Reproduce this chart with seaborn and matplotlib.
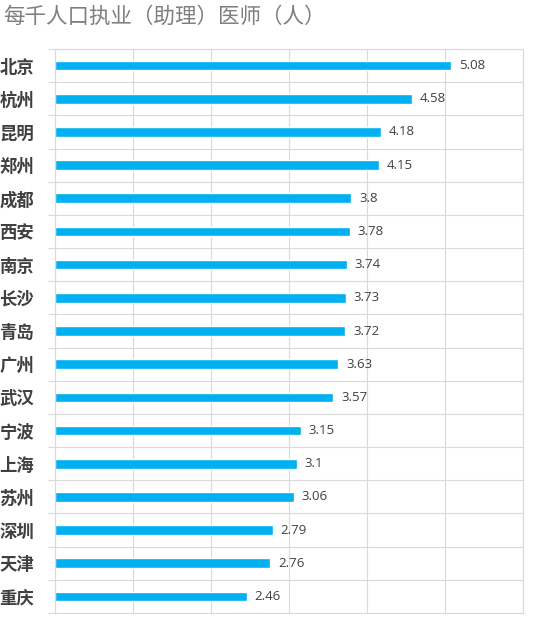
import seaborn as sns
import matplotlib.pyplot as plt
import pandas as pd
import numpy as np

# data
cities = ["北京", "杭州", "昆明", "郑州", "成都", "西安", "南京", "长沙", "青岛",
          "广州", "武汉", "宁波", "上海", "苏州", "深圳", "天津", "重庆"]
doctors = [5.08, 4.58, 4.18, 4.15, 3.8, 3.78, 3.74, 3.73, 3.72,
           3.63, 3.57, 3.15, 3.1, 3.06, 2.79, 2.76, 2.46]
value_labels = ["5.08", "4.58", "4.18", "4.15", "3.8", "3.78", "3.74", "3.73", "3.72",
                "3.63", "3.57", "3.15", "3.1", "3.06", "2.79", "2.76", "2.46"]
title = "每千人口执业（助理）医师（人）"

df = pd.DataFrame({"city": cities, "value": doctors})

sns.set_style("white")
plt.rcParams["font.family"] = ["Noto Sans CJK SC", "DejaVu Sans"]

fig = plt.figure(figsize=(5.37, 6.2), dpi=100)
ax = fig.add_axes([55 / 537, 1 - 613 / 620, 468 / 537, 564 / 620])

sns.barplot(data=df, x="value", y="city", orient="h", color="#00B0F0",
            width=0.29, saturation=1, ax=ax)

grid_c = "#D9D9D9"
n = len(cities)
ax.set_xlim(0, 6)
ax.set_ylim(n - 0.5, -0.5)
ax.set_xticks(range(0, 7))
ax.set_xticklabels([])
ax.tick_params(axis="x", length=0)
ax.xaxis.grid(True, color=grid_c, linewidth=0.8)

# horizontal lines between categories, with short ticks sticking out left
ax.set_yticks(np.arange(-0.5, n, 1.0), minor=True)
ax.yaxis.grid(True, which="minor", color=grid_c, linewidth=0.8)
ax.yaxis.grid(False, which="major")
ax.tick_params(axis="y", which="minor", length=5, width=0.8, color=grid_c, left=True)
ax.tick_params(axis="y", which="major", length=0, pad=15)
for lbl in ax.get_yticklabels():
    lbl.set_fontsize(12.5)
    lbl.set_fontweight("bold")
    lbl.set_color("#404040")
ax.set_axisbelow(True)

for s in ax.spines.values():
    s.set_color(grid_c)
    s.set_linewidth(0.8)

ax.set_xlabel("")
ax.set_ylabel("")

for i, (v, t) in enumerate(zip(doctors, value_labels)):
    ax.text(v + 0.1, i, t, va="center", ha="left", fontsize=9.5, color="#404040",
            family=["Open Sans", "DejaVu Sans"])

fig.text(3 / 537, 1 - 17 / 620, title, fontsize=15.5, color="#7F7F7F",
         va="center", ha="left")

plt.savefig("out.png", dpi=100)
plt.close()
